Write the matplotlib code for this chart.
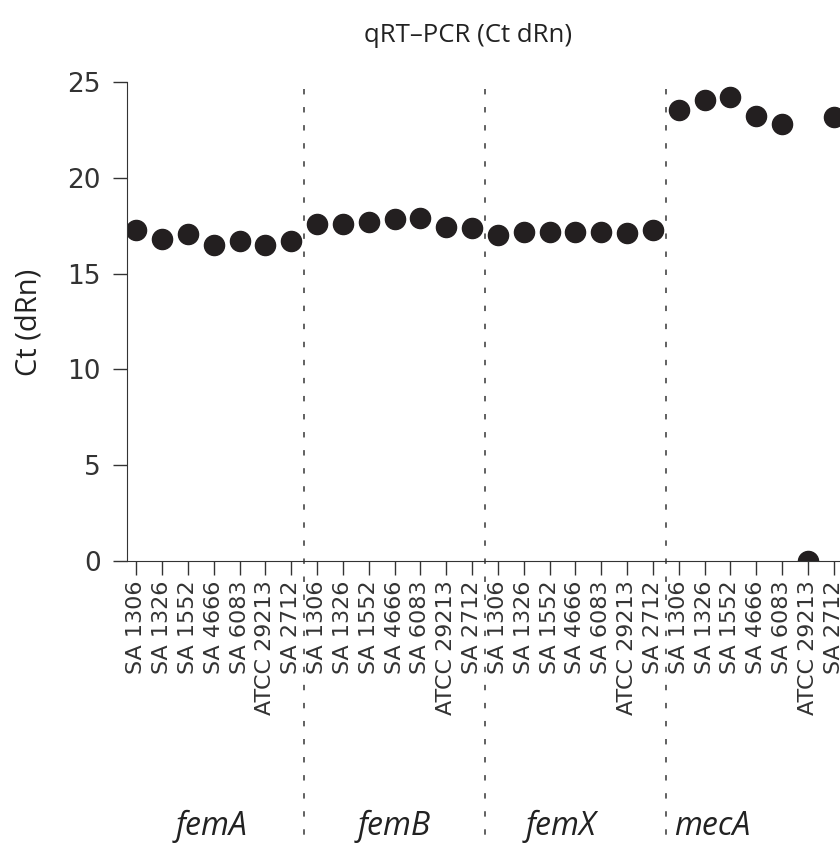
import numpy as np
import matplotlib
matplotlib.use("Agg")
import matplotlib.pyplot as plt
import matplotlib.transforms as mtransforms

plt.rcParams['font.family'] = ['Open Sans', 'DejaVu Sans']

strains = ["SA 1306", "SA 1326", "SA 1552", "SA 4666", "SA 6083", "ATCC 29213", "SA 2712"]
genes = ["femA", "femB", "femX", "mecA"]

femA = [17.3, 16.8, 17.05, 16.5, 16.7, 16.5, 16.7]
femB = [17.6, 17.6, 17.7, 17.85, 17.9, 17.45, 17.4]
femX = [17.0, 17.15, 17.15, 17.15, 17.15, 17.1, 17.3]
mecA = [23.55, 24.05, 24.2, 23.2, 22.8, 0.0, 23.15]

ct = femA + femB + femX + mecA
labels = strains * len(genes)
x = np.arange(len(ct))

fig = plt.figure(figsize=(8.4, 8.43), dpi=100)
ax = fig.add_axes([127 / 840, 1 - 561 / 843, 1 - 127 / 840, (561 - 82) / 843])

ax.plot(x, ct, 'o', color='#231f20', ms=14.5, mec='#231f20')

ax.set_xlim(-0.36, 27.24)
ax.set_ylim(0, 25)
ax.set_yticks([0, 5, 10, 15, 20, 25])
ax.set_yticklabels(["0", "5", "10", "15", "20", "25"], family='DejaVu Sans')
ax.set_xticks(x)
ax.set_xticklabels(labels, rotation=90, family='DejaVu Sans', fontsize=16, color='#222222')
ax.tick_params(axis='y', length=10, width=1, labelsize=19, pad=9, colors='#333333')
ax.tick_params(axis='x', length=10, width=1, pad=4, colors='#333333')
for s in ['top', 'right']:
    ax.spines[s].set_visible(False)
ax.spines['left'].set_color('#333333')
ax.spines['bottom'].set_color('#333333')

# group separators running down through the labels
trans = mtransforms.blended_transform_factory(ax.transData, ax.transAxes)
for b in [6.5, 13.5, 20.5]:
    ax.plot([b, b], [0.985, -0.6], transform=trans, clip_on=False,
            color='#555555', lw=1.3, linestyle=(0, (3, 7)))

group_x = [2.9, 10.0, 16.45, 20.8]
group_ha = ['center', 'center', 'center', 'left']
gtrans = mtransforms.blended_transform_factory(ax.transData, fig.transFigure)
for gx, g, ha in zip(group_x, genes, group_ha):
    ax.text(gx, 1 - 835 / 843, g, transform=gtrans,
            ha=ha, va='baseline', fontsize=23, style='italic', color='#222222')

fig.text(468 / 840, 1 - 42 / 843, "qRT\u2013PCR (Ct dRn)", ha='center', va='baseline',
         fontsize=18.5, color='#222222')
fig.text(44 / 840, 1 - 322 / 843, "Ct (dRn)", ha='right', va='center',
         rotation=90, fontsize=21, color='#222222')

fig.savefig("out.png", dpi=100)
